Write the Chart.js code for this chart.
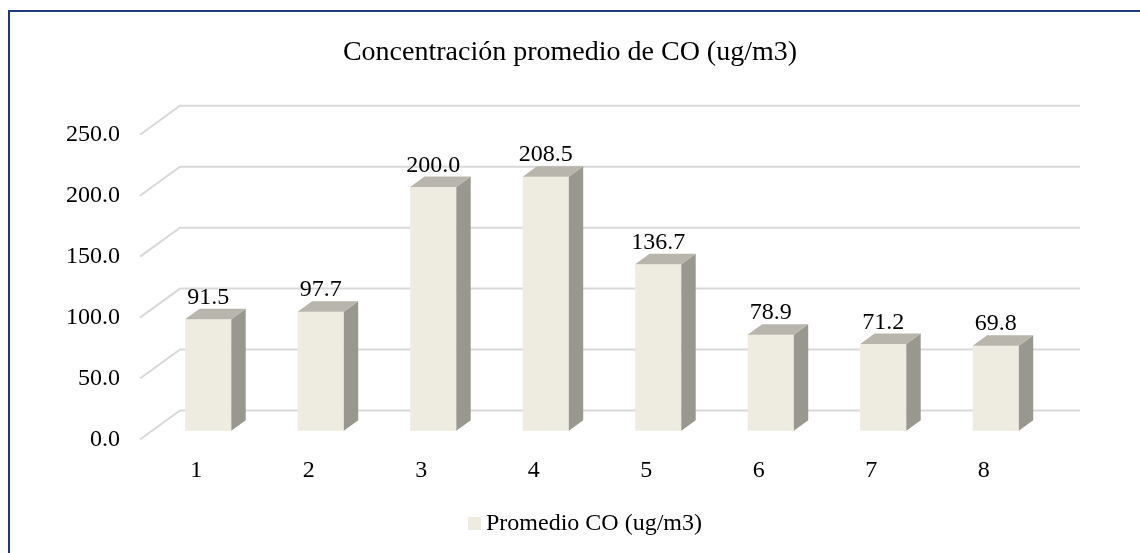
<!DOCTYPE html>
<html>
<head>
<meta charset="utf-8">
<script src="https://cdn.jsdelivr.net/npm/chart.js@4.4.1/dist/chart.umd.min.js"></script>
<style>
  html, body { margin: 0; padding: 0; background: #fff; overflow: hidden; }
  #wrap { position: relative; width: 1140px; height: 553px; }
  #frame {
    position: absolute; left: 8px; top: 10px; width: 1200px; height: 600px;
    border-top: 2px solid #1f3a78; border-left: 2px solid #1f3a78;
    pointer-events: none;
  }
  canvas { position: absolute; left: 0; top: 0; }
</style>
</head>
<body>
<div id="wrap">
  <canvas id="co-chart" width="1140" height="553"></canvas>
  <div id="frame"></div>
</div>
<script>
const categories = ['1', '2', '3', '4', '5', '6', '7', '8'];
const promedioCO = [91.5, 97.7, 200.0, 208.5, 136.7, 78.9, 71.2, 69.8];
const seriesName = 'Promedio CO (ug/m3)';
const chartTitle = 'Concentración promedio de CO (ug/m3)';

const SERIF = '"Liberation Serif", "Times New Roman", serif';

// oblique depth of the floor and where the boxes sit inside it
const FLOOR = { dx: 40, dy: -29 };
const BAR_FRONT = 0.3;
const BAR_DEPTH = 0.36;

const COLORS = {
  front: '#eeece1',
  side: '#989790',
  top: '#b8b5ac',
  grid: '#d9d9d9',
  text: '#000000',
};

const depth3d = {
  id: 'depth3d',
  beforeDatasetsDraw(chart) {
    const { ctx, chartArea, scales } = chart;
    const y = scales.y;
    ctx.save();
    ctx.strokeStyle = COLORS.grid;
    ctx.lineWidth = 2;
    y.ticks.forEach((t) => {
      const py = y.getPixelForValue(t.value);
      ctx.beginPath();
      ctx.moveTo(chartArea.left, py);
      ctx.lineTo(chartArea.left + FLOOR.dx, py + FLOOR.dy);
      ctx.lineTo(chartArea.right + FLOOR.dx, py + FLOOR.dy);
      ctx.stroke();
    });
    ctx.restore();

    // front faces are drawn by Chart.js, pushed back into the floor
    ctx.save();
    ctx.translate(FLOOR.dx * BAR_FRONT, FLOOR.dy * BAR_FRONT);
  },
  afterDatasetsDraw(chart) {
    const { ctx } = chart;
    ctx.restore();

    const ox = FLOOR.dx * BAR_FRONT;
    const oy = FLOOR.dy * BAR_FRONT;
    const dx = FLOOR.dx * BAR_DEPTH;
    const dy = FLOOR.dy * BAR_DEPTH;
    const meta = chart.getDatasetMeta(0);
    const data = chart.data.datasets[0].data;

    meta.data.forEach((bar, i) => {
      const p = bar.getProps(['x', 'y', 'base', 'width'], true);
      const l = p.x - p.width / 2 + ox;
      const r = p.x + p.width / 2 + ox;
      const t = p.y + oy;
      const b = p.base + oy;

      ctx.fillStyle = COLORS.side;
      ctx.beginPath();
      ctx.moveTo(r, t);
      ctx.lineTo(r + dx, t + dy);
      ctx.lineTo(r + dx, b + dy);
      ctx.lineTo(r, b);
      ctx.closePath();
      ctx.fill();

      ctx.fillStyle = COLORS.top;
      ctx.beginPath();
      ctx.moveTo(l, t);
      ctx.lineTo(l + dx, t + dy);
      ctx.lineTo(r + dx, t + dy);
      ctx.lineTo(r, t);
      ctx.closePath();
      ctx.fill();

      ctx.fillStyle = COLORS.text;
      ctx.font = '24px ' + SERIF;
      ctx.textAlign = 'center';
      ctx.textBaseline = 'alphabetic';
      ctx.fillText(data[i].toFixed(1), p.x + ox, t + dy - 5);
    });
  },
  afterDraw(chart) {
    const { ctx } = chart;
    // legend: swatch + series name
    ctx.save();
    ctx.fillStyle = COLORS.front;
    ctx.fillRect(468, 517, 13, 13);
    ctx.fillStyle = COLORS.text;
    ctx.font = '24px ' + SERIF;
    ctx.textAlign = 'left';
    ctx.textBaseline = 'alphabetic';
    ctx.fillText(seriesName, 486, 530);
    ctx.restore();
  },
};

new Chart(document.getElementById('co-chart'), {
  type: 'bar',
  data: {
    labels: categories,
    datasets: [
      {
        label: seriesName,
        data: promedioCO,
        backgroundColor: COLORS.front,
        borderWidth: 0,
        categoryPercentage: 1,
        barPercentage: 0.41,
        clip: false,
      },
    ],
  },
  options: {
    responsive: false,
    animation: false,
    layout: { padding: { left: 0, right: 0, top: 0, bottom: 51.7 } },
    scales: {
      x: {
        grid: { display: false, drawTicks: false },
        border: { display: false },
        ticks: {
          padding: 16.5,
          color: COLORS.text,
          font: { family: SERIF, size: 24 },
        },
      },
      y: {
        min: 0,
        max: 250,
        grid: { display: false, drawTicks: false },
        border: { display: false },
        afterFit: (s) => { s.width = 140; },
        ticks: {
          stepSize: 50,
          padding: 20,
          color: COLORS.text,
          font: { family: SERIF, size: 24 },
          callback: (v) => Number(v).toFixed(1),
        },
      },
      // keeps the plot short of the right edge
      spacer: {
        position: 'right',
        grid: { display: false, drawTicks: false },
        border: { display: false },
        ticks: { display: false },
        afterFit: (s) => { s.width = 100; },
      },
    },
    plugins: {
      legend: { display: false },
      tooltip: { enabled: false },
      title: {
        display: true,
        text: chartTitle,
        color: COLORS.text,
        font: { family: SERIF, size: 28, weight: 'normal' },
        padding: { top: 35.5, bottom: 65.7 },
      },
    },
  },
  plugins: [depth3d],
});
</script>
</body>
</html>
